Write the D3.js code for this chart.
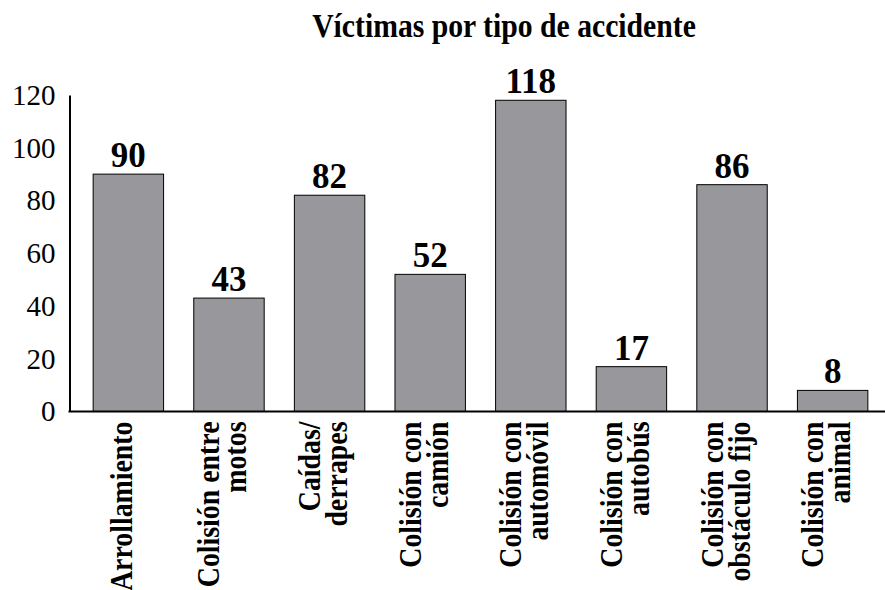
<!DOCTYPE html>
<html>
<head>
<meta charset="utf-8">
<script src="https://cdn.jsdelivr.net/npm/d3@7"></script>
<style>
  html, body { margin: 0; padding: 0; background: #fff; }
  svg { display: block; }
</style>
</head>
<body>
<svg id="chart" width="885" height="590"></svg>
<script>
// datos
const categorias = [
  ["Arrollamiento"],
  ["Colisión entre", "motos"],
  ["Caídas/", "derrapes"],
  ["Colisión con", "camión"],
  ["Colisión con", "automóvil"],
  ["Colisión con", "autobús"],
  ["Colisión con", "obstáculo fijo"],
  ["Colisión con", "animal"]
];
const victimas = [90, 43, 82, 52, 118, 17, 86, 8];
const yTicks = [0, 20, 40, 60, 80, 100, 120];
const titulo = "Víctimas por tipo de accidente";

const W = 885, H = 590;
const FONT = '"Liberation Serif"';
// la fuente original es más estrecha que Times: comprimimos un poco en horizontal
const NARROW = 0.87;
const svg = d3.select("#chart");

const keys = categorias.map((c) => c.join(" "));
const x = d3.scaleBand()
  .domain(keys)
  .range([69, 892])
  .paddingInner(0.3)
  .paddingOuter(0.24);
const y = d3.scaleLinear().domain([0, 120]).range([411.5, 95]);

// título
svg.append("text")
  .attr("transform", `translate(504,37) scale(0.9,1)`)
  .attr("text-anchor", "middle")
  .style("font-family", FONT)
  .attr("font-size", 33).attr("font-weight", "bold")
  .text(titulo);

// barras
svg.append("g").selectAll("rect")
  .data(victimas)
  .join("rect")
  .attr("x", (d, i) => x(keys[i]))
  .attr("y", (d) => y(d))
  .attr("width", x.bandwidth())
  .attr("height", (d) => y(0) - y(d))
  .attr("fill", "#98989c")
  .attr("stroke", "#000")
  .attr("stroke-width", 1);

// etiquetas de valor
svg.append("g").selectAll("text")
  .data(victimas)
  .join("text")
  .attr("x", (d, i) => x(keys[i]) + x.bandwidth() / 2)
  .attr("y", (d) => y(d) - 7)
  .attr("text-anchor", "middle")
  .style("font-family", FONT)
  .attr("font-size", 35).attr("font-weight", "bold")
  .text((d) => d);

// eje y (sin marcas, solo línea y números)
const yAxis = svg.append("g")
  .attr("transform", "translate(69.5,0)")
  .call(d3.axisLeft(y).tickValues(yTicks).tickSize(0).tickSizeOuter(0).tickPadding(14));
yAxis.attr("font-family", null);
yAxis.select(".domain").attr("stroke", "#000").attr("stroke-width", 2);
yAxis.selectAll("text")
  .style("font-family", FONT)
  .attr("font-size", 29).attr("fill", "#000");

// línea base
svg.append("line")
  .attr("x1", 68.5).attr("x2", W)
  .attr("y1", y(0)).attr("y2", y(0))
  .attr("stroke", "#000").attr("stroke-width", 2);

// categorías rotadas
const lineGap = 27;
const labels = svg.append("g").selectAll("text")
  .data(categorias)
  .join("text")
  .attr("transform", (d, i) =>
    `translate(${x(keys[i]) + x.bandwidth() / 2},${y(0) + 10}) rotate(-90) scale(${NARROW},1)`)
  .attr("text-anchor", "end")
  .style("font-family", FONT)
  .attr("font-size", 32).attr("font-weight", "bold");
labels.selectAll("tspan")
  .data((d) => d.map((t, j) => ({ t, j, n: d.length })))
  .join("tspan")
  .attr("x", 0)
  .attr("y", (d) => (d.j - (d.n - 1) / 2) * lineGap + 4)
  .text((d) => d.t);
</script>
</body>
</html>
